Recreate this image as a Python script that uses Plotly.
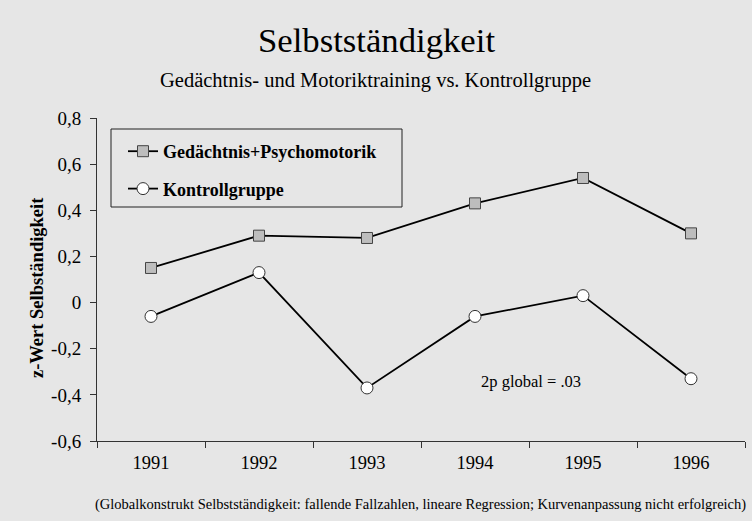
import plotly.graph_objects as go

years = ["1991", "1992", "1993", "1994", "1995", "1996"]
gedaechtnis = [0.15, 0.29, 0.28, 0.43, 0.54, 0.30]
kontroll = [-0.06, 0.13, -0.37, -0.06, 0.03, -0.33]
y_tickvals = [0.8, 0.6, 0.4, 0.2, 0, -0.2, -0.4, -0.6]
y_ticktext = ["0,8", "0,6", "0,4", "0,2", "0", "-0,2", "-0,4", "-0,6"]

FONT = "Liberation Serif"
BG = "#e6e6e6"

L, R, T, B = 97, 7, 118, 80
W, H = 752, 521
PW, PH = W - L - R, H - T - B


def px(xp):
    return (xp - L) / PW


def py(yp):
    return (H - B - yp) / PH


fig = go.Figure()
fig.add_trace(go.Scatter(
    x=years, y=gedaechtnis, mode="lines+markers", name="Gedächtnis+Psychomotorik",
    legendgroup="a",
    line=dict(color="black", width=1.8),
    marker=dict(symbol="square", size=11, color="#bdbdbd", line=dict(color="#444444", width=1)),
))
fig.add_trace(go.Scatter(
    x=years, y=kontroll, mode="lines+markers", name="Kontrollgruppe",
    legendgroup="b",
    line=dict(color="black", width=1.8),
    marker=dict(symbol="circle", size=12, color="white", line=dict(color="#333333", width=1)),
))

# legend frame
fig.add_shape(type="rect", xref="paper", yref="paper",
              x0=px(111), x1=px(402), y0=py(129), y1=py(207),
              line=dict(color="#222222", width=1), fillcolor=BG, layer="below")

fig.update_layout(
    width=W, height=H,
    paper_bgcolor=BG, plot_bgcolor=BG,
    margin=dict(l=L, r=R, t=T, b=B),
    font=dict(family=FONT, color="black"),
    showlegend=True,
    legend=dict(
        x=px(123), y=py(133), xanchor="left", yanchor="top",
        bgcolor="rgba(0,0,0,0)", borderwidth=0,
        font=dict(family=FONT, size=18, color="black", weight="bold"),
        itemwidth=30, tracegroupgap=11, traceorder="grouped",
    ),
    xaxis=dict(
        type="category", range=[-0.5, 5.5],
        showline=True, linecolor="#333333", linewidth=1,
        ticks="outside", tickson="boundaries", ticklen=6, tickcolor="#333333",
        showgrid=False, zeroline=False,
        tickfont=dict(family=FONT, size=18.5), ticklabelstandoff=5,
    ),
    yaxis=dict(
        range=[-0.6, 0.8], tickvals=y_tickvals, ticktext=y_ticktext,
        showline=True, linecolor="#333333", linewidth=1,
        ticks="outside", ticklen=6, tickcolor="#333333",
        showgrid=False, zeroline=False,
        tickfont=dict(family=FONT, size=19), ticklabelstandoff=5,
    ),
)

fig.add_annotation(text="Selbstständigkeit", xref="paper", yref="paper",
                   x=px(376), y=py(40), xanchor="center", yanchor="middle",
                   showarrow=False, font=dict(family=FONT, size=34.7))
fig.add_annotation(text="Gedächtnis- und Motoriktraining vs. Kontrollgruppe", xref="paper", yref="paper",
                   x=px(375), y=py(80), xanchor="center", yanchor="middle",
                   showarrow=False, font=dict(family=FONT, size=20.5))
fig.add_annotation(text="<b>z-Wert Selbständigkeit</b>", xref="paper", yref="paper",
                   x=px(37), y=py(288), xanchor="center", yanchor="middle", textangle=-90,
                   showarrow=False, font=dict(family=FONT, size=18.5))
fig.add_annotation(text="2p global = .03", xref="paper", yref="paper",
                   x=px(531), y=py(381), xanchor="center", yanchor="middle",
                   showarrow=False, font=dict(family=FONT, size=16.5))
fig.add_annotation(text="(Globalkonstrukt Selbstständigkeit: fallende Fallzahlen, lineare Regression; Kurvenanpassung nicht erfolgreich)",
                   xref="paper", yref="paper",
                   x=px(420), y=py(504), xanchor="center", yanchor="middle",
                   showarrow=False, font=dict(family=FONT, size=14.5))

fig.write_html("out.html", config={"displayModeBar": False},
               post_script="document.body.style.margin='0';document.body.style.overflow='hidden';")
